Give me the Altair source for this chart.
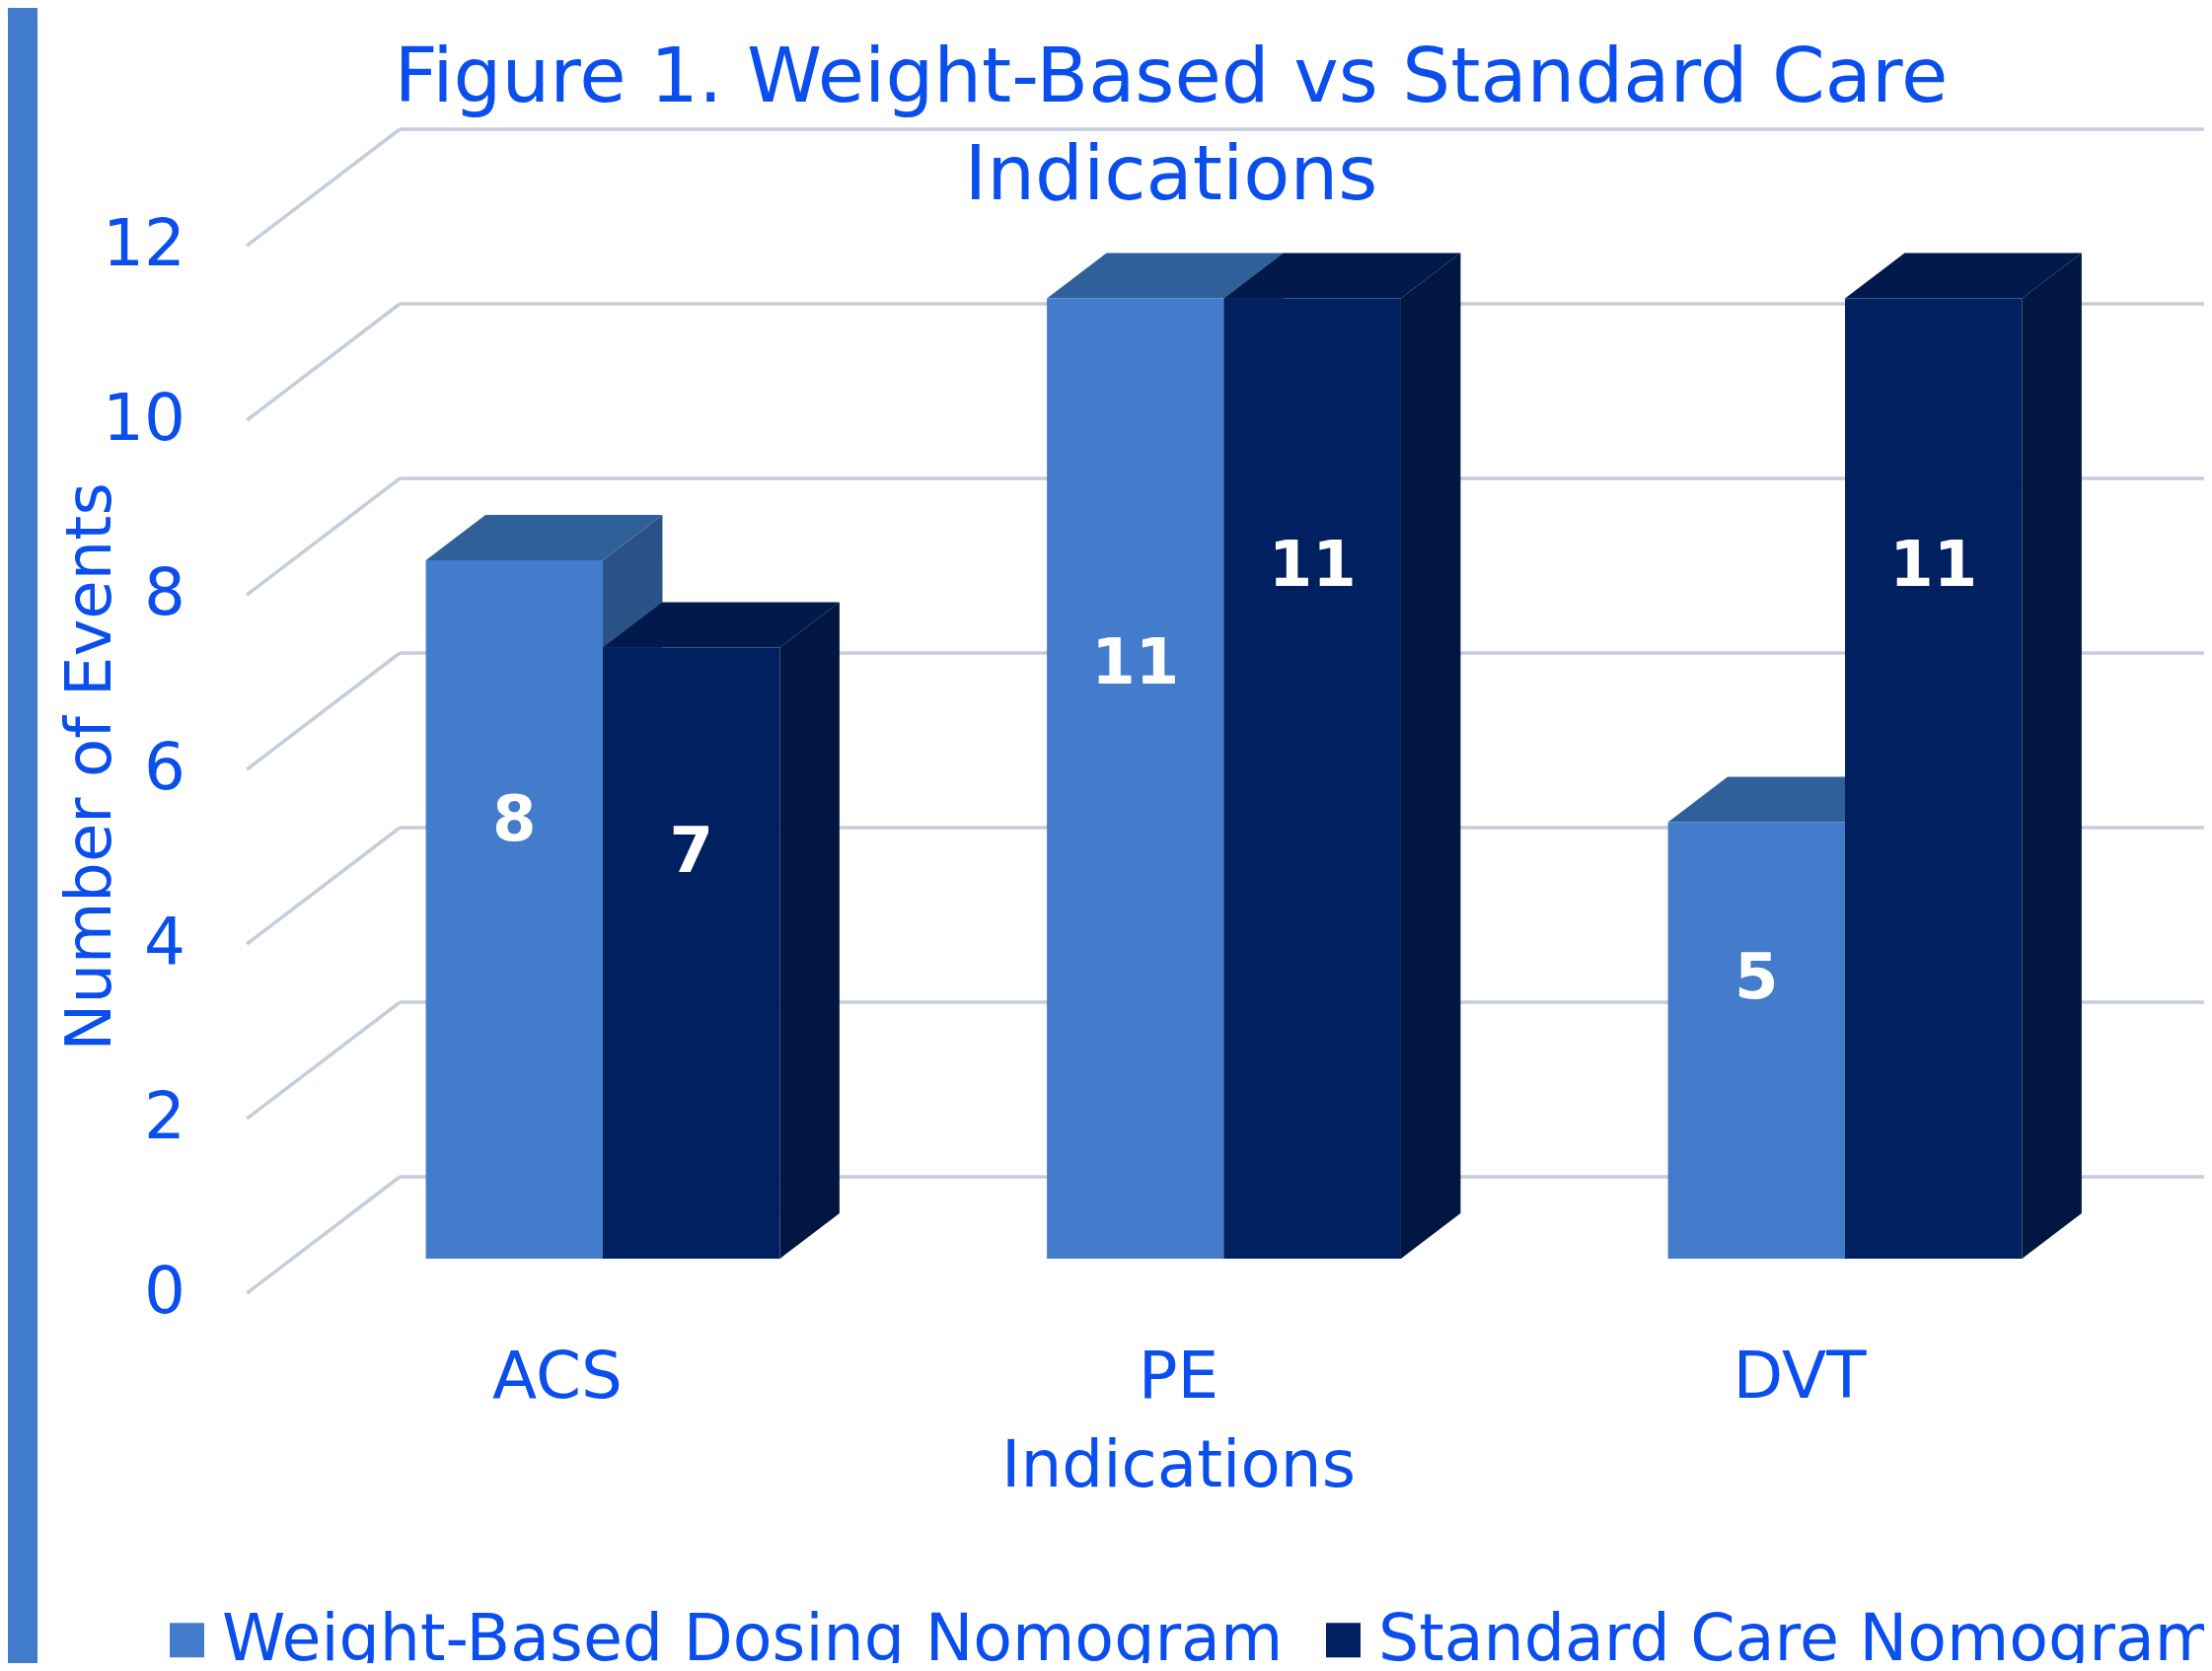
import altair as alt
import pandas as pd

# ---------------- data ----------------
categories = ["ACS", "PE", "DVT"]
series_names = ["Weight-Based Dosing Nomogram", "Standard Care Nomogram"]
weight_based = [8, 11, 5]
standard_care = [7, 11, 11]
y_ticks = [0, 2, 4, 6, 8, 10, 12]

title_lines = ["Figure 1. Weight-Based vs Standard Care", "Indications"]
x_title = "Indications"
y_title = "Number of Events"

# ---------------- style ----------------
W, H = 2226, 1678
FONT = "DejaVu Sans"
BLUE_TEXT = "#0A4EEE"
FRONT = ["#427CCA", "#01205F"]
TOP = ["#30609A", "#01194B"]
SIDE = ["#2A5287", "#011640"]
GRID = "#C4CDDC"
STRIPE = "#417BCB"

# oblique 3D projection constants
DEPTH_X = 0.2462   # x shift (category units) over full floor depth
DEPTH_Y = 1.3333   # y shift (value units) over full floor depth
Z_FRONT, Z_BACK = 0.297, 0.687
BAR_W = 0.285
AXIS_X = -0.5

x_scale = alt.Scale(domain=[-0.8848, 2.6513], nice=False, zero=False)
y_scale = alt.Scale(domain=[-4.237, 14.723], nice=False, zero=False)


def X(f, **kw):
    return alt.X(f, scale=x_scale, axis=None, **kw)


def Y(f, **kw):
    return alt.Y(f, scale=y_scale, axis=None, **kw)


dxf, dyf = DEPTH_X * Z_FRONT, DEPTH_Y * Z_FRONT
dxb, dyb = DEPTH_X * Z_BACK, DEPTH_Y * Z_BACK
label_fit = [(0.60, 0.2), (0.82, -1.1)]

values = [weight_based, standard_care]
front_rows, top_rows, side_rows, label_rows = [], [], [], []
for s, vals in enumerate(values):
    for i, (cat, v) in enumerate(zip(categories, vals)):
        x0 = i - BAR_W + s * BAR_W
        x1 = x0 + BAR_W
        bid = f"{cat}-{s}"
        front_rows.append(dict(series=series_names[s], x=x0 + dxf, x2=x1 + dxf, y=dyf, y2=v + dyf))
        top_rows += [
            dict(id=bid, c=TOP[s], y=v + dyf, x=x0 + dxf, x2=x1 + dxf),
            dict(id=bid, c=TOP[s], y=v + dyb, x=x0 + dxb, x2=x1 + dxb),
        ]
        side_rows += [
            dict(id=bid, c=SIDE[s], x=x1 + dxf, y=dyf, y2=v + dyf),
            dict(id=bid, c=SIDE[s], x=x1 + dxb, y=dyb, y2=v + dyb),
        ]
        a, b = label_fit[s]
        label_rows.append(dict(x=(x0 + x1) / 2 + dxf, y=dyf + a * v + b, text=str(v)))

front_df = pd.DataFrame(front_rows)
top_df = pd.DataFrame(top_rows)
side_df = pd.DataFrame(side_rows)
label_df = pd.DataFrame(label_rows)

grid_df = pd.DataFrame({"v": y_ticks})
grid_df["xa"] = AXIS_X
grid_df["xb"] = AXIS_X + DEPTH_X
grid_df["xe"] = 3.0
grid_df["yb"] = grid_df["v"] + DEPTH_Y
grid_df["xl"] = -0.5989
grid_df["lbl"] = grid_df["v"].astype(str)

cat_df = pd.DataFrame({"x": list(range(len(categories))), "y": -1.198, "t": categories})
xt_df = pd.DataFrame({"x": [1.0], "y": [-2.215], "t": [x_title]})
yt_df = pd.DataFrame({"x": [-0.7196], "y": [6.03], "t": [y_title]})
title_df = pd.DataFrame({"x": [0.988, 0.988], "y": [13.65, 12.531], "t": title_lines})

# ---------------- layers ----------------
stripe = alt.Chart(pd.DataFrame({"a": [0]})).mark_rect(color=STRIPE).encode(
    x=alt.value(0), x2=alt.value(30), y=alt.value(0), y2=alt.value(H)
)

back_grid = alt.Chart(grid_df).mark_rule(color=GRID, strokeWidth=3.5, clip=True).encode(
    x=X("xb:Q"), x2="xe:Q", y=Y("yb:Q")
)
diag_grid = alt.Chart(grid_df).mark_rule(color=GRID, strokeWidth=3.5).encode(
    x=X("xa:Q"), x2="xb:Q", y=Y("v:Q"), y2="yb:Q"
)

sides = alt.Chart(side_df).mark_area(opacity=1).encode(
    x=X("x:Q"), y=Y("y:Q", stack=None), y2="y2:Q", detail="id:N",
    fill=alt.Fill("c:N", scale=None),
)
tops = alt.Chart(top_df).mark_area(orient="horizontal", opacity=1).encode(
    y=Y("y:Q"), x=X("x:Q", stack=None), x2="x2:Q", detail="id:N",
    fill=alt.Fill("c:N", scale=None),
)
fronts = alt.Chart(front_df).mark_rect(opacity=1).encode(
    x=X("x:Q"), x2="x2:Q", y=Y("y:Q"), y2="y2:Q",
    color=alt.Color(
        "series:N",
        scale=alt.Scale(domain=series_names, range=FRONT),
        legend=alt.Legend(
            title=None, orient="none", legendX=149, legendY=1622,
            direction="horizontal", symbolType="square", symbolSize=1225,
            symbolStrokeWidth=0, symbolOpacity=1, labelFontSize=65,
            labelFont=FONT, labelColor=BLUE_TEXT, labelLimit=3000,
            labelOffset=3, columnPadding=28,
        ),
    ),
)

value_labels = alt.Chart(label_df).mark_text(
    font=FONT, fontSize=64, fontWeight="bold", color="white", baseline="middle", align="center"
).encode(x=X("x:Q"), y=Y("y:Q"), text="text:N")

ytick_labels = alt.Chart(grid_df).mark_text(
    font=FONT, fontSize=66, color=BLUE_TEXT, align="right", baseline="middle"
).encode(x=X("xl:Q"), y=Y("v:Q"), text="lbl:N")

cat_labels = alt.Chart(cat_df).mark_text(
    font=FONT, fontSize=66, color=BLUE_TEXT, align="center", baseline="alphabetic"
).encode(x=X("x:Q"), y=Y("y:Q"), text="t:N")

x_title_t = alt.Chart(xt_df).mark_text(
    font=FONT, fontSize=66, color=BLUE_TEXT, align="center", baseline="alphabetic"
).encode(x=X("x:Q"), y=Y("y:Q"), text="t:N")

y_title_t = alt.Chart(yt_df).mark_text(
    font=FONT, fontSize=64, color=BLUE_TEXT, align="center", baseline="alphabetic", angle=270
).encode(x=X("x:Q"), y=Y("y:Q"), text="t:N")

title_t = alt.Chart(title_df).mark_text(
    font=FONT, fontSize=77, color=BLUE_TEXT, align="center", baseline="alphabetic"
).encode(x=X("x:Q"), y=Y("y:Q"), text="t:N")

chart = alt.layer(
    stripe, back_grid, diag_grid, sides, tops, fronts,
    value_labels, ytick_labels, cat_labels, x_title_t, y_title_t, title_t,
).properties(
    width=W, height=H, padding=0, autosize=alt.AutoSizeParams(type="none"),
    background="white",
).configure_view(stroke=None)

chart.save("out.html", embed_options={"renderer": "svg", "actions": False})
